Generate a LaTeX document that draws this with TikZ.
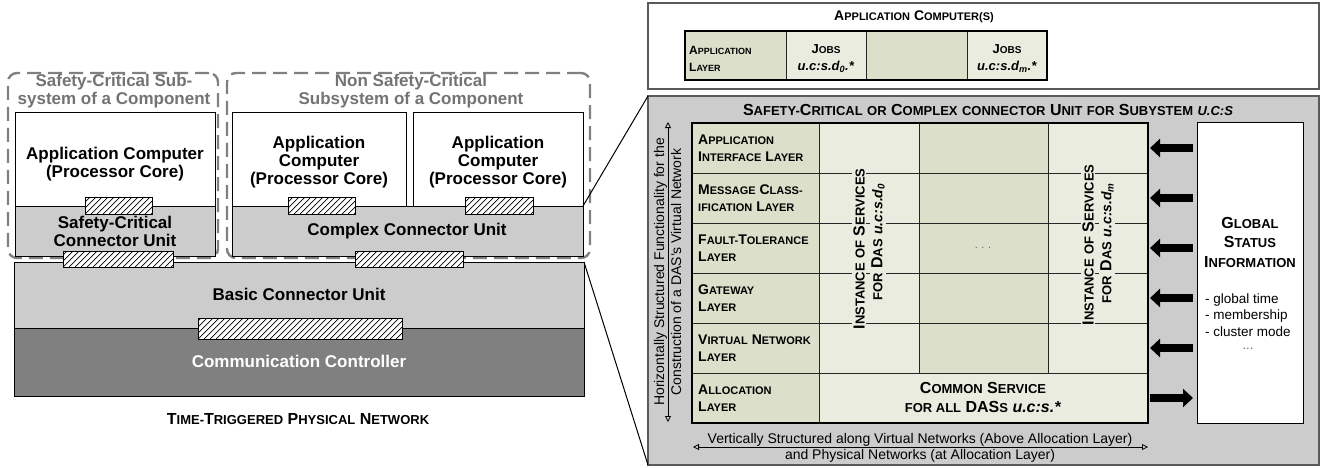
\documentclass[tikz,border=0pt]{standalone}
\usepackage{fontspec}
\setmainfont{Liberation Sans}
\usetikzlibrary{arrows.meta}

\definecolor{cellD}{RGB}{220,223,202}
\definecolor{cellL}{RGB}{235,236,224}
\definecolor{panelgray}{RGB}{204,204,204}
\definecolor{unitgray}{RGB}{204,204,204}
\definecolor{ctrlgray}{RGB}{128,128,128}
\definecolor{dashgray}{RGB}{128,128,128}
\definecolor{titlegray}{RGB}{115,115,115}
\definecolor{framegray}{RGB}{90,90,90}

% small capitals: large initial letters, smaller capitals for the rest
\newcommand\scset[3]{\def\scB{#1}\def\scS{#2}\def\scL{#3}}
\newcommand\sk[2]{{\fontsize{\scB}{\scL}\selectfont #1}{\fontsize{\scS}{\scL}\selectfont #2}}
\newcommand\scfont[3]{\scset{#1}{#2}{#3}\fontsize{#1}{#3}\selectfont\bfseries}
\newcommand\ucs[2]{{\fontsize{#1}{\scL}\selectfont\textit{#2}}}

\tikzset{
  box/.style={draw=black, line width=1pt, inner sep=0pt, outer sep=0pt, anchor=north west},
  dashbox/.style={draw=dashgray, line width=2.4pt, dash pattern=on 14pt off 7pt,
    rounded corners=9pt, inner sep=0pt, outer sep=0pt, anchor=north west},
  hatch/.style={path picture={
      \foreach \k in {-5,...,40}
        \draw[line width=0.7pt] ([xshift=\k*6pt]path picture bounding box.south west) -- ++(40pt,40pt);
    }},
  pad/.style={box, line width=0.8pt, fill=white, hatch},
  biglabel/.style={font=\fontsize{17}{18}\selectfont\bfseries, align=center, inner sep=0pt},
  subtitle/.style={biglabel, text=titlegray},
  gridcell/.style={draw=black!85, line width=1pt, inner sep=0pt, outer sep=0pt, anchor=north west},
  layerlbl/.style={font=\scfont{14}{11}{17}, align=left, anchor=west, inner sep=0pt},
  vtext/.style={rotate=90, inner sep=1pt, font=\scfont{16}{13}{18}},
  blockarrow/.style={line width=8pt, -{Triangle[length=10pt,width=18pt]}},
  openarrows/.style={line width=0.8pt, {Triangle[open,length=6pt,width=6pt]}-{Triangle[open,length=6pt,width=6pt]}},
  plaintext/.style={font=\fontsize{14}{16}\selectfont, inner sep=0pt},
}

\begin{document}
\begin{tikzpicture}[x=1pt,y=-1pt]
\useasboundingbox (0,0) rectangle (1320,467);

% ================= node architecture (left) =================
\node[dashbox, minimum width=210pt, minimum height=185pt] (scsub) at (8,73) {};
\node[dashbox, minimum width=363pt, minimum height=185pt] (ncsub) at (227,73) {};
\node[subtitle] (scsubt) at (114,91.5) {Safety-Critical Sub-\\system of a Component};
\node[subtitle] (ncsubt) at (411,91.5) {Non Safety-Critical\\Subsystem of a Component};

% application computers
\node[box, fill=white, minimum width=200pt, minimum height=94pt] (ac1) at (15,112) {};
\node[box, fill=white, minimum width=174pt, minimum height=94pt] (ac2) at (232,112) {};
\node[box, fill=white, minimum width=170pt, minimum height=94pt] (ac3) at (413,112) {};
\node[biglabel] at (ac1.center) [yshift=-5pt] {Application Computer\\(Processor Core)};
\node[biglabel] at (ac2.center) [yshift=-3pt] {Application\\Computer\\(Processor Core)};
\node[biglabel] at (ac3.center) [yshift=-3pt] {Application\\Computer\\(Processor Core)};

% connector units
\node[box, fill=unitgray, minimum width=200pt, minimum height=50pt] (scu) at (15,206) {};
\node[box, fill=unitgray, minimum width=351pt, minimum height=50pt] (ccu) at (232,206) {};
\node[biglabel] at (115,231.5) {Safety-Critical\\Connector Unit};
\node[biglabel] at (407,231.5) {Complex Connector Unit};

\node[box, fill=unitgray, minimum width=570pt, minimum height=66pt] (bcu) at (14,262) {};
\node[box, fill=ctrlgray, minimum width=570pt, minimum height=68pt] (ctrl) at (14,328) {};
\node[biglabel] at (299,294) {Basic Connector Unit};
\node[biglabel, text=white] at (299,361) {Communication Controller};

% interfaces
\node[pad, minimum width=67pt, minimum height=17pt] (if1) at (85,197) {};
\node[pad, minimum width=67pt, minimum height=17pt] (if2) at (288,197) {};
\node[pad, minimum width=68pt, minimum height=17pt] (if3) at (465,197) {};
\node[pad, minimum width=110pt, minimum height=16pt] (if4) at (63,251) {};
\node[pad, minimum width=108pt, minimum height=16pt] (if5) at (355,251) {};
\node[pad, minimum width=204pt, minimum height=21pt] (if6) at (198,318) {};

\node[font=\scfont{16}{13}{18}, inner sep=0pt] (ttnet) at (298,419)
  {\sk{T}{IME-}\sk{T}{RIGGERED} \sk{P}{HYSICAL} \sk{N}{ETWORK}};

% ================= application computer(s) (top right) =================
\node[box, draw=framegray, line width=1.5pt, fill=white, minimum width=671pt, minimum height=86pt] (appbox) at (648,3) {};
\node[font=\scfont{14}{11}{17}, inner sep=0pt] (apptitle) at (914,17) {\sk{A}{PPLICATION} \sk{C}{OMPUTER(S)}};
\node[gridcell, fill=cellD, minimum width=101pt, minimum height=49pt] (ta) at (685,31) {};
\node[gridcell, fill=cellL, minimum width=80pt, minimum height=49pt] (tb) at (786,31) {};
\node[gridcell, fill=cellD, minimum width=101pt, minimum height=49pt] (tc) at (866,31) {};
\node[gridcell, fill=cellL, minimum width=80pt, minimum height=49pt] (td) at (967,31) {};
\draw[line width=1.4pt] (ta.north west) rectangle (td.south east);
\node[font=\scfont{12}{9}{17}, align=left, anchor=west, inner sep=0pt] at (689,59) {\sk{A}{PPLICATION}\\\sk{L}{AYER}};
\node[font=\scfont{13}{10}{17}, align=center, inner sep=0pt] at (tb.center) [yshift=-3pt]
  {\sk{J}{OBS}\\\ucs{13}{u.c:s.d\textsubscript{0}.*}};
\node[font=\scfont{13}{10}{17}, align=center, inner sep=0pt] at (td.center) [yshift=-3pt]
  {\sk{J}{OBS}\\\ucs{13}{u.c:s.d\textsubscript{m}.*}};

% ================= connector unit layers (right) =================
\node[box, draw=framegray, line width=1.5pt, fill=panelgray, minimum width=671pt, minimum height=369pt] (panel) at (648,96) {};
\draw[line width=1pt] (ccu.north east) -- (panel.north west);
\draw[line width=1pt] (bcu.north east) -- (panel.south west);

\node[font=\scfont{16}{13}{18}, inner sep=0pt] (gridtitle) at (988,109.5)
  {\sk{S}{AFETY-}\sk{C}{RITICAL} \sk{}{OR} \sk{C}{OMPLEX} \sk{}{CONNECTOR} \sk{U}{NIT} \sk{}{FOR} \sk{S}{UBYSTEM} \textit{\sk{}{U.C:S}}};

\foreach \r in {0,...,5}
  \node[gridcell, fill=cellD, minimum width=127pt, minimum height=50pt] (L\r) at (692,123+50*\r) {};
\foreach \r in {0,...,4} {
  \node[gridcell, fill=cellL, minimum width=100pt, minimum height=50pt] (A\r) at (819,123+50*\r) {};
  \node[gridcell, fill=cellD, minimum width=129pt, minimum height=50pt] (B\r) at (919,123+50*\r) {};
  \node[gridcell, fill=cellL, minimum width=100pt, minimum height=50pt] (C\r) at (1048,123+50*\r) {};
}
\node[gridcell, fill=cellL, minimum width=329pt, minimum height=50pt] (common) at (819,373) {};
\draw[line width=1.4pt] (L0.north west) rectangle (common.south east);

\node[layerlbl] at (698,148) {\sk{A}{PPLICATION}\\\sk{I}{NTERFACE} \sk{L}{AYER}};
\node[layerlbl] at (698,198) {\sk{M}{ESSAGE} \sk{C}{LASS-}\\\sk{}{IFICATION} \sk{L}{AYER}};
\node[layerlbl] at (698,248) {\sk{F}{AULT-}\sk{T}{OLERANCE}\\\sk{L}{AYER}};
\node[layerlbl] at (698,298) {\sk{G}{ATEWAY}\\\sk{L}{AYER}};
\node[layerlbl] at (698,348) {\sk{V}{IRTUAL} \sk{N}{ETWORK}\\\sk{L}{AYER}};
\node[layerlbl] at (698,398) {\sk{A}{LLOCATION}\\\sk{L}{AYER}};

\node[vtext, fill=cellL] (i0a) at (859,249) {\sk{I}{NSTANCE} \sk{}{OF} \sk{S}{ERVICES}};
\node[vtext, fill=cellL] (i0b) at (878,242) {\sk{}{FOR} \sk{D}{AS} \ucs{14}{u.c:s.d\textsubscript{0}}};
\node[vtext, fill=cellL] (ima) at (1088,245) {\sk{I}{NSTANCE} \sk{}{OF} \sk{S}{ERVICES}};
\node[vtext, fill=cellL] (imb) at (1107,243) {\sk{}{FOR} \sk{D}{AS} \ucs{14}{u.c:s.d\textsubscript{m}}};
\node[font=\fontsize{11}{12}\selectfont, text=black!60, inner sep=0pt] (dots) at (983,248) {.\,\,.\,\,.};

\node[font=\scfont{16}{13}{19}, align=center, inner sep=0pt] (commontxt) at (983,397)
  {\sk{C}{OMMON} \sk{S}{ERVICE}\\\sk{}{FOR ALL} \sk{DAS}{S} \textit{u.c:s.*}};

% global status information
\node[box, fill=white, minimum width=106pt, minimum height=301pt] (gs) at (1197,122) {};
\node[font=\scfont{16}{13}{19.5}, align=center, inner sep=0pt] (gst) at (1250,242)
  {\sk{G}{LOBAL}\\\sk{S}{TATUS}\\\sk{I}{NFORMATION}};
\node[font=\fontsize{13.5}{16.5}\selectfont, align=left, anchor=west, inner sep=0pt] (gsl) at (1205,315)
  {- global time\\- membership\\- cluster mode};
\node[font=\fontsize{13}{14}\selectfont, text=black!60, inner sep=0pt] (gsdots) at (1248,349) {...};

\foreach \r in {0,...,4}
  \draw[blockarrow, shorten <=4pt, shorten >=2pt] (gs.west |- C\r.east) -- (C\r.east);
\draw[blockarrow, shorten <=2pt, shorten >=4pt] (common.east) -- (gs.west |- common.east);

% structuring axes
\coordinate (vtop) at (668,122);
\coordinate (vbot) at (668,422);
\draw[openarrows] (vbot) -- (vtop);
\node[plaintext, rotate=90, anchor=base] (vt1) at (664,272) {Horizontally Structured Functionality for the};
\node[plaintext, rotate=90, anchor=base] (vt2) at (681,272) {Construction of a DAS's Virtual Network};

\coordinate (hleft) at (693,447);
\coordinate (hright) at (1148,447);
\draw[openarrows] (hleft) -- (hright);
\node[plaintext, anchor=base] (ht1) at (920,443) {Vertically Structured along Virtual Networks (Above Allocation Layer)};
\node[plaintext, anchor=base] (ht2) at (920,459) {and Physical Networks (at Allocation Layer)};
\end{tikzpicture}
\end{document}
